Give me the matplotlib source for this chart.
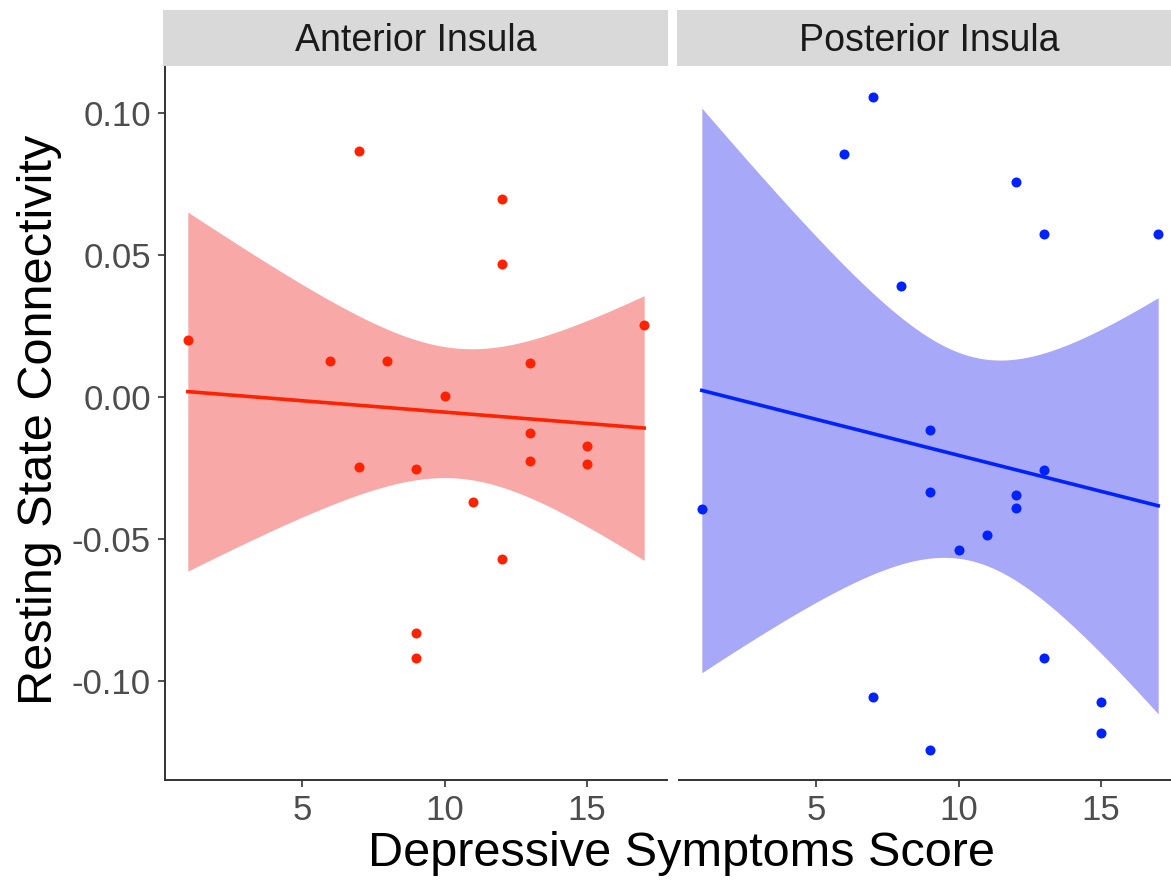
import numpy as np
import matplotlib.pyplot as plt

plt.rcParams['font.family'] = ['Liberation Sans', 'DejaVu Sans']

# Depressive symptoms score and resting state connectivity, one set per region
anterior_x = [1, 6, 7, 7, 8, 9, 9, 9, 10, 11, 12, 12, 12, 13, 13, 13, 15, 15, 17]
anterior_y = [0.020, 0.0128, 0.0865, -0.0246, 0.0128, -0.0253, -0.083, -0.092,
              0.0003, -0.037, 0.0695, 0.0468, -0.057, 0.0118, -0.0128, -0.0225,
              -0.0172, -0.0235, 0.0253]

posterior_x = [1, 6, 7, 7, 8, 9, 9, 9, 10, 11, 12, 12, 12, 13, 13, 13, 15, 15, 17]
posterior_y = [-0.0395, 0.0855, 0.1055, -0.1055, 0.0392, -0.0118, -0.0335, -0.1245,
               -0.0538, -0.0488, 0.0758, -0.0345, -0.0390, 0.0575, -0.0258, -0.0920,
               -0.1075, -0.1185, 0.0575]

panel_titles = ["Anterior Insula", "Posterior Insula"]
y_ticks = [-0.10, -0.05, 0.00, 0.05, 0.10]
y_tick_labels = ["-0.10", "-0.05", "0.00", "0.05", "0.10"]
x_ticks = [5, 10, 15]

T_975 = 2.1098  # t quantile, df = 17


def lm_band(x, y, grid):
    x = np.asarray(x, float)
    y = np.asarray(y, float)
    n = len(x)
    b1, b0 = np.polyfit(x, y, 1)
    resid = y - (b0 + b1 * x)
    s = np.sqrt(np.sum(resid ** 2) / (n - 2))
    sxx = np.sum((x - x.mean()) ** 2)
    fit = b0 + b1 * grid
    se = s * np.sqrt(1 / n + (grid - x.mean()) ** 2 / sxx)
    return fit, fit - T_975 * se, fit + T_975 * se


fig = plt.figure(figsize=(11.71, 8.8), dpi=100)
W, H = 1171, 880

panels = [(165, anterior_x, anterior_y, "#FF2200", "#F9A8A8"),
          (679, posterior_x, posterior_y, "#0022FF", "#A8A8F8")]

for i, (left, xs, ys, col, fill) in enumerate(panels):
    ax = fig.add_axes([left / W, 100 / H, 502 / W, 714 / H])
    grid = np.linspace(min(xs), max(xs), 100)
    fit, lo, hi = lm_band(xs, ys, grid)
    ax.fill_between(grid, lo, hi, color=fill, lw=0, zorder=1)
    ax.plot(grid, fit, color=col, lw=2.6, zorder=2)
    ax.scatter(xs, ys, s=52, color=col, lw=0, zorder=3)

    ax.set_xlim(0.2, 17.8)
    ax.set_ylim(-0.1349, 0.1165)
    ax.set_xticks(x_ticks)
    ax.set_xticklabels([str(t) for t in x_ticks])
    ax.tick_params(axis='x', colors='#333333', labelcolor='#4D4D4D',
                   labelsize=25, length=5, width=1.2, pad=5)
    ax.spines['top'].set_visible(False)
    ax.spines['right'].set_visible(False)
    ax.spines['bottom'].set_color('#333333')
    ax.spines['bottom'].set_linewidth(1.4)
    if i == 0:
        ax.set_yticks(y_ticks)
        ax.set_yticklabels(y_tick_labels)
        ax.tick_params(axis='y', colors='#333333', labelcolor='#4D4D4D',
                       labelsize=25, length=5, width=1.2, pad=5)
        ax.spines['left'].set_color('#333333')
        ax.spines['left'].set_linewidth(1.4)
    else:
        ax.set_yticks([])
        ax.spines['left'].set_visible(False)

    # facet strip
    sx = fig.add_axes([(left - 2) / W, (880 - 66) / H, 505 / W, 56 / H])
    sx.set_facecolor('#D9D9D9')
    sx.set_xticks([])
    sx.set_yticks([])
    for sp in sx.spines.values():
        sp.set_visible(False)
    sx.text(0.5, 0.45, panel_titles[i], ha='center', va='center',
            fontsize=27, color='#1A1A1A', transform=sx.transAxes)

fig.text(682 / W, 1 - 853 / H, "Depressive Symptoms Score", ha='center',
         va='center', fontsize=35, color='black')
fig.text(40 / W, 1 - 420 / H, "Resting State Connectivity", ha='center',
         va='center', fontsize=35, color='black', rotation=90)

fig.savefig("out.png", dpi=100)
